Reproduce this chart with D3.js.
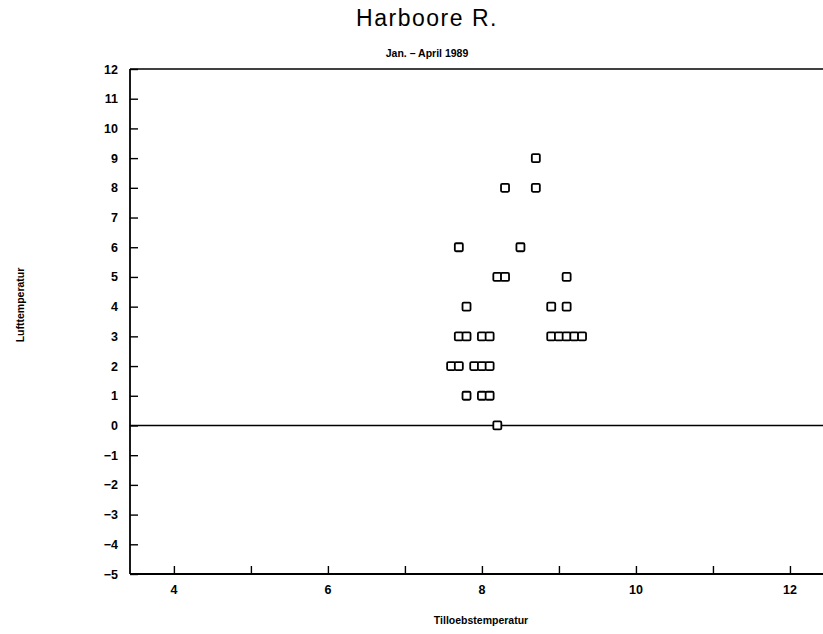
<!DOCTYPE html>
<html>
<head>
<meta charset="utf-8">
<script src="https://cdn.jsdelivr.net/npm/d3@7/dist/d3.min.js"></script>
<style>
  html, body { margin: 0; padding: 0; background: #fff; }
  svg { display: block; }
  text { font-family: "Liberation Sans", Arial, sans-serif; fill: #000; }
</style>
</head>
<body>
<svg id="chart" width="823" height="634"></svg>
<script>
// Inflow temperature (x) vs. air temperature (y), Harboore, Jan.–April 1989
const airTemp = [9, 8, 8, 6, 6, 5, 5, 5, 4, 4, 4,
  3, 3, 3, 3, 3, 3, 3, 3, 3,
  2, 2, 2, 2, 2,
  1, 1, 1,
  0];
const inflowTemp = [8.7, 8.3, 8.7, 7.7, 8.5, 8.2, 8.3, 9.1, 7.8, 8.9, 9.1,
  7.7, 7.8, 8.0, 8.1, 8.9, 9.0, 9.1, 9.2, 9.3,
  7.6, 7.7, 7.9, 8.0, 8.1,
  7.8, 8.0, 8.1,
  8.2];
const xTicks = [4, 5, 6, 7, 8, 9, 10, 11, 12];
const xTickLabels = ["4", "6", "8", "10", "12"];
const yTicks = [-5, -4, -3, -2, -1, 0, 1, 2, 3, 4, 5, 6, 7, 8, 9, 10, 11, 12];

const title = "Harboore R.";
const subtitle = "Jan. \u2013 April 1989";
const xTitle = "Tilloebstemperatur";
const yTitle = "Lufttemperatur";

const svg = d3.select("#chart");
const plotLeft = 130, plotRight = 830, plotTop = 69, plotBottom = 574;

const x = d3.scaleLinear().domain([3.43, 12.52]).range([plotLeft, plotRight]);
const y = d3.scaleLinear().domain([-5, 12]).range([plotBottom, plotTop]);

// frame: top edge, left axis, bottom axis
svg.append("line").attr("x1", plotLeft).attr("x2", plotRight).attr("y1", plotTop).attr("y2", plotTop)
  .attr("stroke", "#000").attr("stroke-width", 1.6);

const yAxis = d3.axisRight(y).tickValues(yTicks).tickSize(8).tickFormat("");
const gy = svg.append("g").attr("transform", `translate(${plotLeft},0)`).call(yAxis);
gy.select(".domain").remove();
gy.selectAll(".tick line").attr("stroke-width", 1.4);
svg.append("line").attr("x1", plotLeft).attr("x2", plotLeft).attr("y1", plotTop).attr("y2", plotBottom)
  .attr("stroke", "#000").attr("stroke-width", 1.8);

svg.append("g").selectAll("text").data(yTicks).join("text")
  .attr("x", 118).attr("y", d => y(d) + 4.5)
  .attr("text-anchor", "end")
  .attr("font-size", 12.5).attr("font-weight", "bold")
  .text(d => d < 0 ? "\u2212" + Math.abs(d) : d);

const xAxis = d3.axisTop(x).tickValues(xTicks).tickSize(8).tickFormat("");
const gx = svg.append("g").attr("transform", `translate(0,${plotBottom})`).call(xAxis);
gx.select(".domain").remove();
gx.selectAll(".tick line").attr("stroke-width", 1.4);
svg.append("line").attr("x1", plotLeft).attr("x2", plotRight).attr("y1", plotBottom).attr("y2", plotBottom)
  .attr("stroke", "#000").attr("stroke-width", 1.8);

svg.append("g").selectAll("text").data(xTickLabels).join("text")
  .attr("x", d => x(+d)).attr("y", 594)
  .attr("text-anchor", "middle")
  .attr("font-size", 12.5).attr("font-weight", "bold")
  .text(d => d);

// zero reference line
svg.append("line").attr("x1", plotLeft).attr("x2", plotRight).attr("y1", y(0)).attr("y2", y(0))
  .attr("stroke", "#000").attr("stroke-width", 1.4);

// observations as open squares
const s = 8;
svg.append("g").selectAll("rect").data(airTemp.map((v, i) => [inflowTemp[i], v])).join("rect")
  .attr("x", d => x(d[0]) - s / 2).attr("y", d => y(d[1]) - s / 2)
  .attr("width", s).attr("height", s).attr("rx", 1.2)
  .attr("fill", "#fff").attr("stroke", "#000").attr("stroke-width", 1.8);

// titles
svg.append("text").attr("x", 427).attr("y", 26).attr("text-anchor", "middle")
  .attr("font-size", 23).attr("font-family", "DejaVu Sans").attr("font-weight", 200)
  .attr("letter-spacing", 1.5).text(title);
svg.append("text").attr("x", 427).attr("y", 57).attr("text-anchor", "middle")
  .attr("font-size", 10.5).attr("font-weight", "bold").text(subtitle);
svg.append("text").attr("x", 481).attr("y", 624).attr("text-anchor", "middle")
  .attr("font-size", 10.5).attr("font-weight", "bold").text(xTitle);
svg.append("text").attr("transform", "translate(24,305) rotate(-90)").attr("text-anchor", "middle")
  .attr("font-size", 10.5).attr("font-weight", "bold").text(yTitle);
</script>
</body>
</html>
